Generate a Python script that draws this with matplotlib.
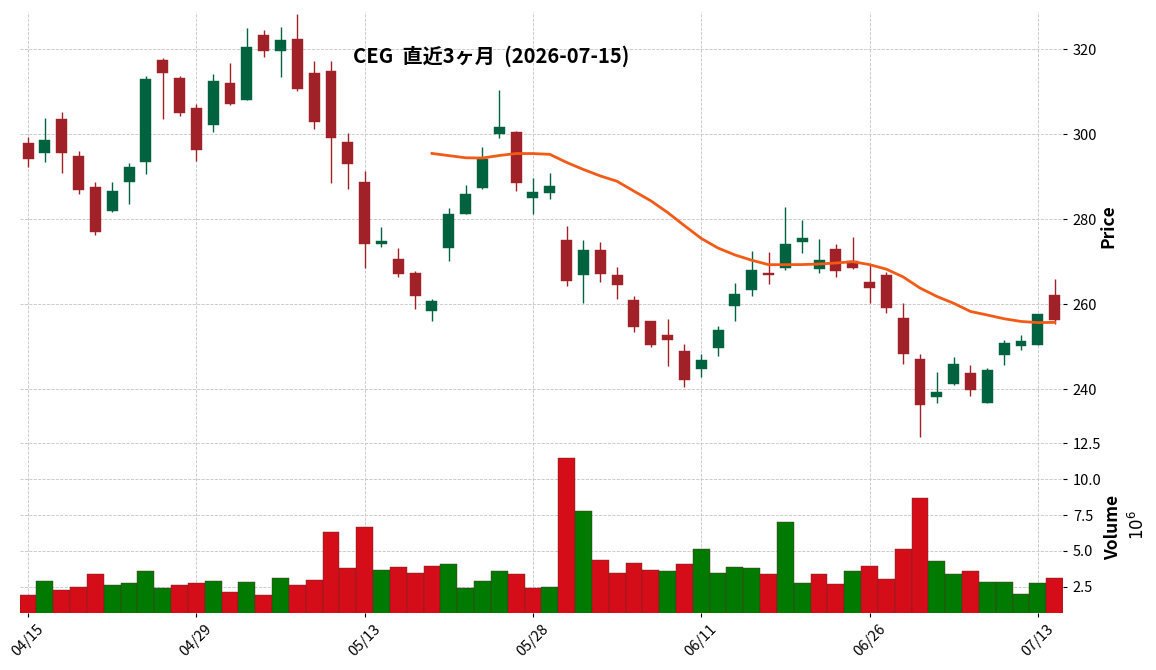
import matplotlib
matplotlib.use('Agg')
import matplotlib.pyplot as plt
from matplotlib.ticker import MultipleLocator, FuncFormatter
import numpy as np
import pandas as pd

plt.rcParams['font.family'] = ['Noto Sans CJK JP', 'DejaVu Sans']

# trading days (US market holidays removed)
holidays = ['2026-05-25', '2026-06-19', '2026-07-03']
dates = pd.bdate_range('2026-04-15', '2026-07-14')
dates = dates[~dates.isin(pd.to_datetime(holidays))]

opens = [297.96, 295.61, 303.61, 294.9, 287.6, 281.96, 288.78, 293.49, 317.49, 313.25,
         306.2, 302.2, 312.08, 308.16, 323.37, 319.69, 322.43, 314.43, 314.9, 298.2,
         288.78, 274.27, 270.67, 267.37, 258.51, 273.33, 281.33, 287.45, 300.0, 300.55,
         285.1, 286.27, 275.14, 266.98, 272.78, 266.9, 261.02, 256.08, 252.78, 249.02,
         244.86, 249.8, 259.69, 263.45, 267.45, 268.63, 274.75, 268.39, 273.1, 270.12,
         265.25, 266.9, 256.78, 247.14, 238.04, 241.25, 243.84, 236.78, 248.16, 250.27,
         250.51, 262.2]
highs = [299.45, 303.84, 305.18, 296.0, 288.78, 288.78, 293.25, 313.65, 317.88, 313.65,
         307.06, 314.12, 316.78, 324.94, 324.47, 325.18, 328.24, 317.18, 317.18, 300.24,
         291.45, 278.12, 273.18, 267.76, 261.18, 282.59, 288.0, 297.02, 310.43, 300.78,
         289.8, 290.82, 278.51, 275.14, 274.59, 268.71, 262.04, 256.08, 256.47, 250.59,
         248.24, 254.98, 264.94, 272.47, 272.24, 282.82, 279.76, 275.37, 274.2, 275.76,
         269.25, 267.69, 260.24, 248.24, 244.08, 247.53, 245.65, 244.94, 251.53, 252.71,
         257.73, 265.88]
lows = [292.24, 293.57, 290.98, 285.88, 276.4, 281.8, 283.53, 290.75, 303.53, 304.39,
        293.8, 300.47, 306.9, 308.0, 318.12, 313.41, 310.12, 301.18, 288.47, 287.06,
        268.55, 273.41, 266.51, 258.82, 256.0, 270.12, 281.3, 287.06, 299.14, 286.59,
        281.18, 284.71, 264.31, 260.24, 265.18, 261.18, 253.57, 250.04, 245.41, 240.47,
        242.9, 247.76, 256.16, 261.88, 264.71, 268.0, 272.0, 267.45, 266.35, 268.24,
        260.24, 257.88, 245.88, 228.71, 236.71, 241.1, 238.51, 236.7, 245.65, 249.18,
        250.5, 255.37]
closes = [294.2, 298.67, 295.61, 286.9, 277.02, 286.67, 292.31, 313.02, 314.51, 305.02,
          296.31, 312.55, 307.14, 320.55, 319.69, 322.2, 310.75, 302.9, 299.22, 293.1,
          274.27, 274.98, 267.14, 262.04, 260.78, 281.25, 285.96, 294.2, 301.73, 288.63,
          286.43, 287.84, 265.49, 272.78, 267.22, 264.63, 254.75, 250.43, 251.69, 242.27,
          246.9, 253.96, 262.43, 268.08, 266.98, 274.2, 275.61, 270.43, 267.92, 268.63,
          263.92, 259.22, 248.39, 236.39, 239.37, 245.96, 239.69, 244.55, 250.9, 251.37,
          257.73, 256.31]
# volume in millions of shares
volume_m = [1.92, 2.89, 2.27, 2.5, 3.38, 2.62, 2.75, 3.59, 2.41, 2.62,
            2.75, 2.89, 2.13, 2.82, 1.92, 3.10, 2.62, 2.96, 6.30, 3.80,
            6.64, 3.66, 3.87, 3.45, 3.94, 4.07, 2.41, 2.89, 3.59, 3.38,
            2.41, 2.48, 11.44, 7.75, 4.35, 3.45, 4.14, 3.66, 3.59, 4.07,
            5.12, 3.45, 3.87, 3.80, 3.38, 6.99, 2.75, 3.38, 2.69, 3.59,
            3.94, 3.03, 5.12, 8.66, 4.28, 3.38, 3.59, 2.82, 2.82, 1.99,
            2.75, 3.10]

df = pd.DataFrame({'Open': opens, 'High': highs, 'Low': lows, 'Close': closes,
                   'Volume': volume_m}, index=dates)
df['MA25'] = df['Close'].rolling(25).mean()

up_c, down_c = '#006340', '#A02128'
vup_c, vdown_c = '#007a00', '#d50d18'
grid_kw = dict(linestyle='--', color='#c4c4c4', linewidth=0.6)

fig = plt.figure(figsize=(11.56, 6.70), dpi=100)
ax = fig.add_axes([0.017, 0.3418, 0.9026, 0.6403])
axv = fig.add_axes([0.017, 0.0851, 0.9026, 0.2567], sharex=ax)

x = np.arange(len(df))
o, h, l, c = df['Open'].values, df['High'].values, df['Low'].values, df['Close'].values
up = c >= o
ccol = np.where(up, up_c, down_c)

ax.vlines(x, l, h, colors=ccol, linewidth=1.0, zorder=2)
ax.bar(x, np.maximum(np.abs(c - o), 0.15), bottom=np.minimum(o, c), width=0.65,
       color=ccol, edgecolor=ccol, linewidth=0.3, zorder=3)
ax.plot(x, df['MA25'].values, color='#f25a16', linewidth=2.0, zorder=4)

# volume colour follows close-to-close change
vdir = np.r_[c[0] >= o[0], c[1:] >= c[:-1]]
vcol = np.where(vdir, vup_c, vdown_c)
axv.bar(x, df['Volume'].values, width=1.0, color=vcol, edgecolor='#5a2a2a',
        linewidth=0.3, zorder=3)

ax.set_xlim(-0.5, len(df) - 0.5)
ax.set_ylim(227.8, 328.8)
axv.set_ylim(0.67, 12.66)

for a in (ax, axv):
    for s in a.spines.values():
        s.set_visible(False)
    a.grid(True, **grid_kw)
    a.set_axisbelow(True)
    a.yaxis.tick_right()
    a.yaxis.set_label_position('right')
    a.tick_params(axis='y', labelsize=10.5, length=3, width=0.8, pad=4)

ax.yaxis.set_major_locator(MultipleLocator(20))
axv.yaxis.set_major_locator(MultipleLocator(2.5))
axv.yaxis.set_major_formatter(FuncFormatter(lambda v, p: f'{v:.1f}'))

tick_idx = list(range(0, len(df), 10))
axv.set_xticks(tick_idx)
axv.set_xticklabels([dates[i].strftime('%m/%d') for i in tick_idx], rotation=45,
                    ha='center', fontsize=10.5)
axv.tick_params(axis='x', length=3, width=0.8)
ax.tick_params(axis='x', length=0, labelbottom=False)

ax.set_ylabel('Price', fontsize=12.5, fontweight='bold', labelpad=1.5)
axv.set_ylabel('Volume', fontsize=12.5, fontweight='bold', labelpad=1.5)
fig.text(0.984, 0.216, r'$10^6$', rotation=90, fontsize=12, ha='center', va='center')

fig.text(0.425, 0.9164, 'CEG  直近3ヶ月  (2026-07-15)', fontsize=14.5, fontweight='bold',
         ha='center', va='center')

fig.savefig('out.png', dpi=100)
